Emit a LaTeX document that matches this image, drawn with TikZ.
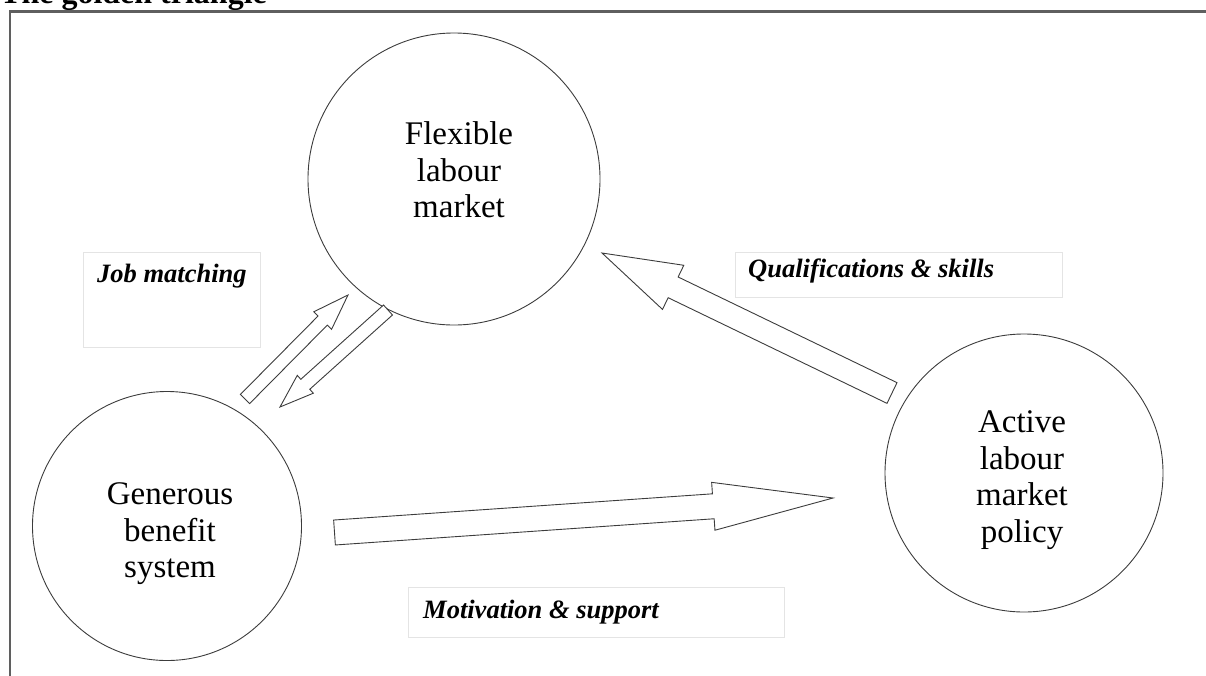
\documentclass[tikz,border=0pt]{standalone}
\usepackage{fontspec}
\setmainfont{Liberation Serif}
\usetikzlibrary{calc,shapes.geometric}
\definecolor{edge}{RGB}{60,60,60}
\definecolor{frameline}{RGB}{95,95,95}
\definecolor{boxline}{RGB}{228,228,228}

% tail, tip, half shaft width, half head width, head length
\newcommand\blockarrow[5]{%
  \path ($(#2)!#5!(#1)$) coordinate (ba-h);
  \draw[barrow] ($(#1)!#3!90:(#2)$) -- ($(ba-h)!#3!90:(#2)$) -- ($(ba-h)!#4!90:(#2)$)
    -- (#2) -- ($(ba-h)!#4!-90:(#2)$) -- ($(ba-h)!#3!-90:(#2)$) -- ($(#1)!#3!-90:(#2)$) -- cycle;
}

\tikzset{
  bubble/.style={draw=edge, line width=0.9pt, circle, inner sep=0pt},
  circtext/.style={inner sep=0pt, align=center, font=\fontsize{33}{36.5}\selectfont},
  lblbox/.style={draw=boxline, line width=0.7pt, rectangle, inner sep=0pt},
  lbltext/.style={inner sep=0pt, font=\bfseries\itshape\fontsize{26.5}{30}\selectfont},
  barrow/.style={draw=edge, fill=white, line width=0.9pt, line join=miter},
  frame/.style={draw=frameline, line width=2.2pt}
}

\begin{document}
\begin{tikzpicture}[x=1pt,y=-1pt]
\useasboundingbox (0,0) rectangle (1206,675);
\clip (0,0) rectangle (1206,675);

% title (cut by the top edge, as in the original) and frame
\node[anchor=base west, inner sep=0pt, font=\bfseries\fontsize{32}{36}\selectfont] (title) at (0,3.5) {The golden triangle};
\draw[frame] (10,690) -- (10,11.5) -- (1220,11.5);

% circles
\node[bubble, minimum size=292pt] (flm) at (454,179) {};
\node[bubble, minimum size=269pt] (gbs) at (167,526) {};
\node[bubble, minimum size=278pt] (almp) at (1024,473) {};

\node[circtext] (flmt) at (459,170) {Flexible\\labour\\market};
\node[circtext] (gbst) at (170,534) {Generous\\benefit\\system};
\node[circtext] (almpt) at (1022,480) {Active\\labour\\market\\policy};

% label boxes
\node[lblbox, minimum width=177pt, minimum height=95pt, anchor=north west] (jmbox) at (83,252) {};
\node[lbltext, anchor=base west] (jm) at (97,282) {Job matching};
\node[lblbox, minimum width=327pt, minimum height=45pt, anchor=north west] (qsbox) at (735,252) {};
\node[lbltext, anchor=base west] (qs) at (748,277) {Qualifications \& skills};
\node[lblbox, minimum width=376pt, minimum height=50pt, anchor=north west] (msbox) at (408,587) {};
\node[lbltext, anchor=base west] (ms) at (423,618) {Motivation \& support};

% block arrows
\coordinate (a1s) at (245,399); \coordinate (a1e) at (348,295);
\coordinate (a2s) at (388,310); \coordinate (a2e) at (280,407);
\coordinate (a3s) at (892,393); \coordinate (a3e) at (602,253);
\coordinate (a4s) at (334.5,532.5); \coordinate (a4e) at (833,498);
\blockarrow{a1s}{a1e}{6.5pt}{12.5pt}{36pt}
\blockarrow{a2s}{a2e}{6.7pt}{12pt}{34pt}
\blockarrow{a3s}{a3e}{11.5pt}{24.5pt}{79pt}
\blockarrow{a4s}{a4e}{12.5pt}{24pt}{120pt}
\end{tikzpicture}
\end{document}
